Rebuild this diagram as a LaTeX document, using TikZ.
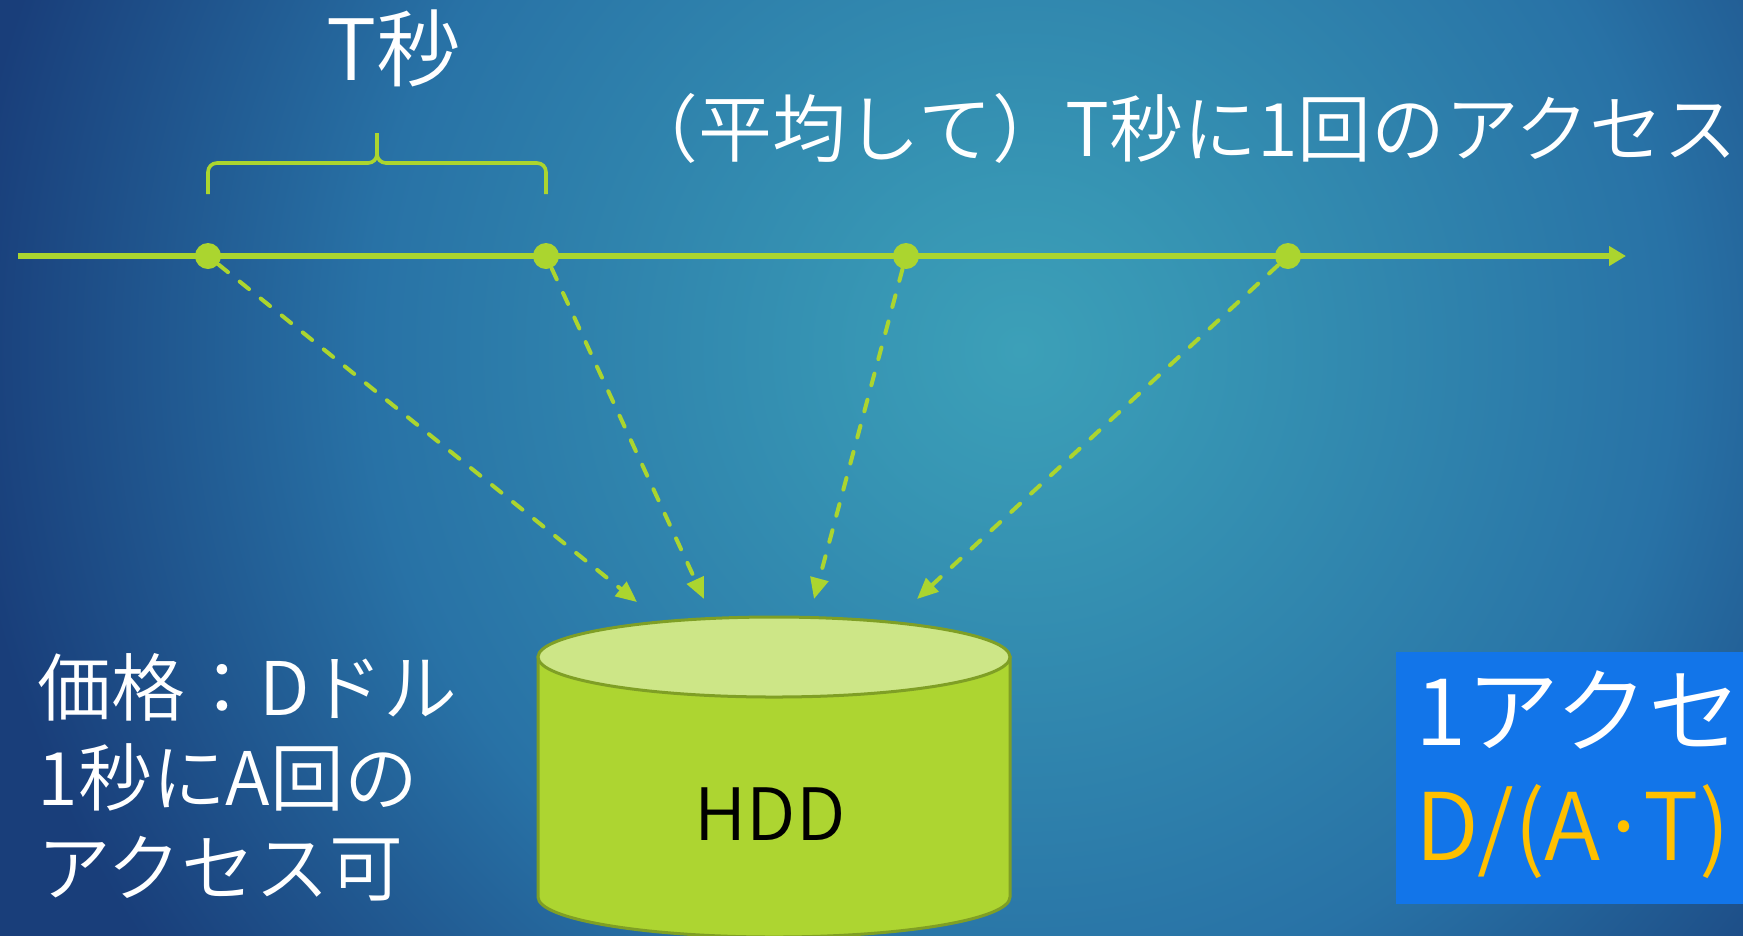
\documentclass[tikz,border=0pt]{standalone}
\usepackage{fontspec}
\setmainfont{Noto Sans CJK JP}[UprightFont=* DemiLight]
\usepackage{tikz}
\usetikzlibrary{arrows.meta}
\definecolor{glowc}{RGB}{60,160,184}
\definecolor{glowb}{RGB}{55,150,180}
\definecolor{midc}{RGB}{40,114,166}
\definecolor{deepc}{RGB}{25,62,122}
\definecolor{limeg}{RGB}{171,213,47}
\definecolor{hddside}{RGB}{173,213,49}
\definecolor{hddtop}{RGB}{205,230,135}
\definecolor{hddrim}{RGB}{127,159,37}
\definecolor{boxblue}{RGB}{18,117,233}
\definecolor{costgold}{RGB}{255,192,0}
\pgfdeclareradialshading{bgglow}{\pgfpoint{0bp}{0bp}}{color(0bp)=(glowc); color(45bp)=(glowb); color(185bp)=(midc); color(300bp)=(deepc); color(360bp)=(deepc)}
\newcommand*\jpsize[1]{\fontsize{#1}{#1}\selectfont}

\begin{document}
\begin{tikzpicture}[x=0.01cm,y=-0.01cm,
	dot/.style={circle,fill=limeg,inner sep=0pt,minimum size=0.26cm},
	hit/.style={->,limeg,line width=0.04cm,line cap=round,dash pattern=on 0.12cm off 0.15cm,>={Triangle[length=0.21cm,width=0.18cm]}},
	txt/.style={text=white,inner sep=0pt,font=\jpsize{21pt}},
	boxtxt/.style={text=white,inner sep=0pt,font=\jpsize{26.5pt}}]
			\useasboundingbox(0,0)rectangle(1743,935);
			\clip(0,0)rectangle(1743,935);
			\node[inner sep=0pt](bg)at(1020,350){\pgfuseshading{bgglow}};
			\coordinate(t0)at(18,256);
			\coordinate(t1)at(1626,256);
			\draw[->,limeg,line width=0.055cm,>={Triangle[length=0.17cm,width=0.19cm]}](t0)--(t1);
			\node[dot](p1)at(208,256){};
			\node[dot](p2)at(546,256){};
			\node[dot](p3)at(906,256){};
			\node[dot](p4)at(1288,256){};
			\draw[limeg,line width=0.036cm,rounded corners=0.09cm](208,194)--(208,163)--(377,163)--(377,133);
			\draw[limeg,line width=0.036cm,rounded corners=0.09cm](546,194)--(546,163)--(377,163)--(377,133);
			\node[txt,anchor=base,font=\jpsize{24pt}](span)at(394,80){T秒};
			\node[txt,anchor=base east](avg)at(1738,156){（平均して）T秒に1回のアクセス};
			\coordinate(h1)at(637,602);
			\coordinate(h2)at(704,599);
			\coordinate(h3)at(814,599);
			\coordinate(h4)at(917,599);
			\draw[hit](p1)edge(h1)(p2)edge(h2)(p3)edge(h3)(p4)edge(h4);
			\filldraw[fill=hddside,draw=hddrim,line width=0.03cm](538,657)--(538,897)arc[start angle=180,end angle=0,x radius=236,y radius=40]--(1010,657)--cycle;
			\filldraw[fill=hddtop,draw=hddrim,line width=0.03cm](774,657)ellipse[x radius=236,y radius=40];
			\node[anchor=base,inner sep=0pt,font=\jpsize{20.5pt}](hdd)at(770,840){HDD};
			\node[txt,anchor=base west](price)at(37,715){価格：Dドル};
			\node[txt,anchor=base west](rate)at(37,805){1秒にA回の};
			\node[txt,anchor=base west](able)at(37,895){アクセス可};
			\node[fill=boxblue,anchor=north west,minimum width=3.6cm,minimum height=2.52cm,inner sep=0pt](costbox)at(1395,651){};
			\node[boxtxt,anchor=base west](perhit)at(1415,745){1アクセス};
			\node[boxtxt,text=costgold,anchor=base west](cost)at(1415,860){D/(A·T)};
		\end{tikzpicture}
\end{document}
